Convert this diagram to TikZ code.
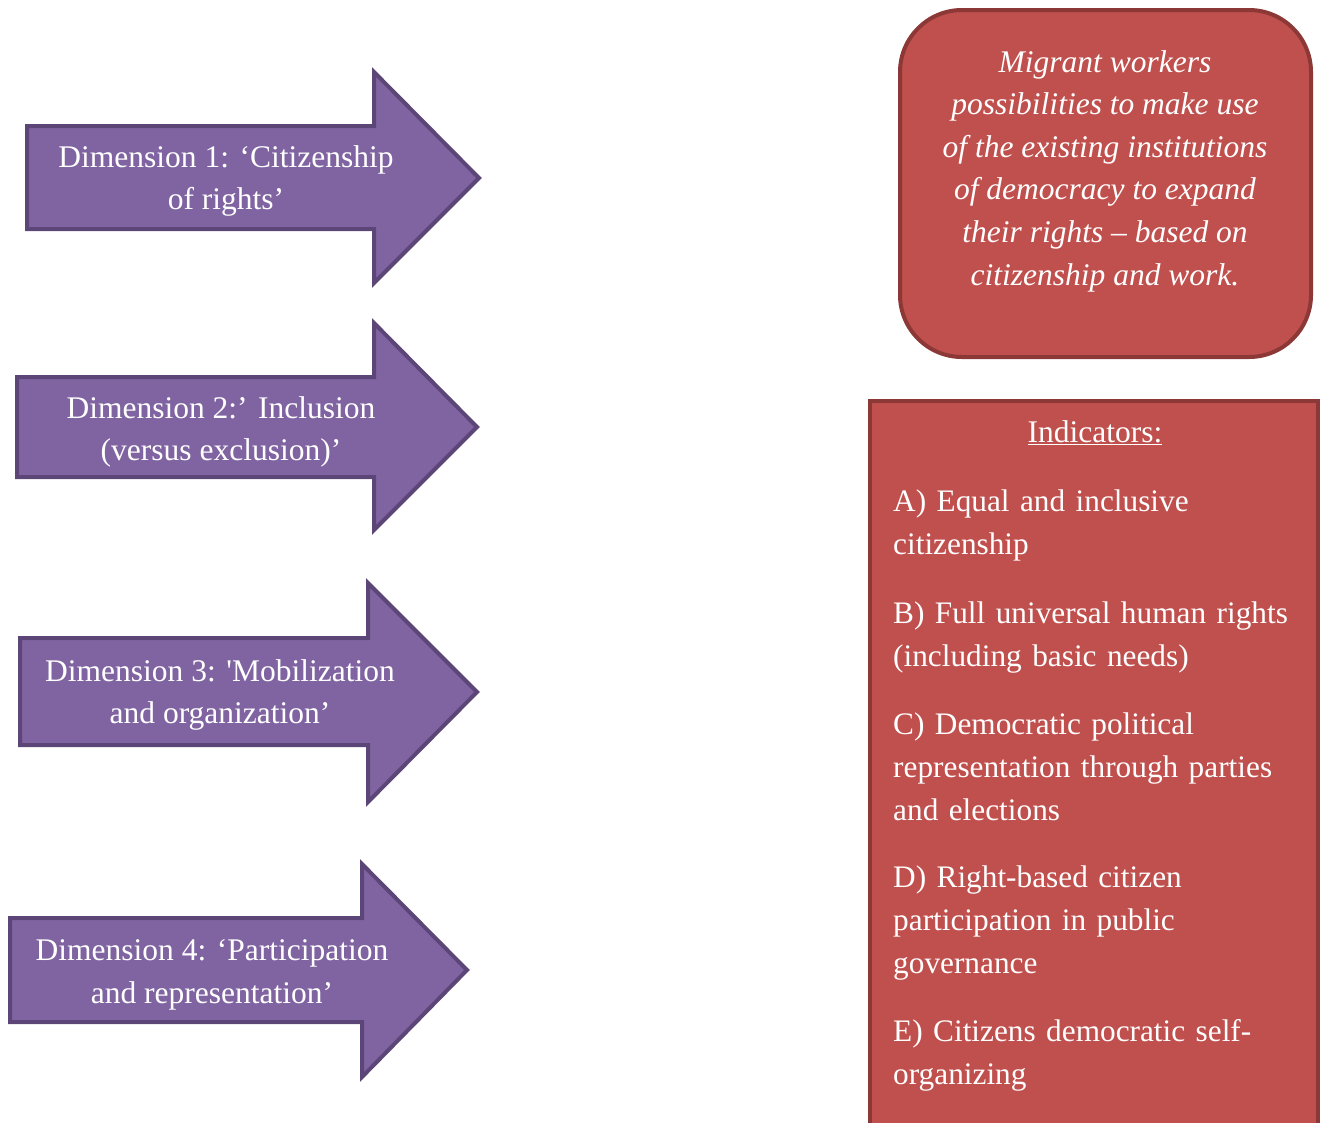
\documentclass[tikz,border=0pt]{standalone}
\usepackage{fontspec}
\setmainfont{Liberation Serif}
\newfontfamily\straightq{Liberation Serif}[Ligatures=TeXOff]
\definecolor{purfill}{HTML}{8064A2}
\definecolor{purline}{HTML}{5C4678}
\definecolor{redfill}{HTML}{C0504D}
\definecolor{redline}{HTML}{8C3836}
\tikzset{
  dimarrow/.style={fill=purfill, draw=purline, line width=4pt, line join=miter},
  dimtext/.style={text=white, align=center, font=\fontsize{31.5}{42.5}\selectfont, inner sep=0pt},
  redbox/.style={fill=redfill, draw=redline, line width=4pt},
  indtext/.style={text=white, align=left, anchor=north west, font=\fontsize{31.3}{43}\selectfont, inner sep=0pt, text width=420pt},
}
\begin{document}
\begin{tikzpicture}[x=1pt,y=-1pt]
\useasboundingbox (0,0) rectangle (1322,1122);
% arrows
\draw[dimarrow] (27,126) -- (374,126) -- (374,72) -- (479,178) -- (374,283) -- (374,229) -- (27,229) -- cycle;
\node[dimtext] (d1) at (226,181) {Dimension 1: ‘Citizenship\\of rights’};
\draw[dimarrow] (17,377) -- (374,377) -- (374,323) -- (477,427) -- (374,530) -- (374,477) -- (17,477) -- cycle;
\node[dimtext] (d2) at (221,432) {Dimension 2:’ Inclusion\\(versus exclusion)’};
\draw[dimarrow] (20,638) -- (368,638) -- (368,583) -- (477,692) -- (368,802) -- (368,745) -- (20,745) -- cycle;
\node[dimtext] (d3) at (220,695) {Dimension 3: {\straightq'}Mobilization\\and organization’};
\draw[dimarrow] (10,918) -- (362,918) -- (362,864) -- (467,970) -- (362,1077) -- (362,1022) -- (10,1022) -- cycle;
\node[dimtext] (d4) at (212,975) {Dimension 4: ‘Participation\\and representation’};
% rounded box
\draw[redbox, rounded corners=62pt] (900,10) rectangle (1311,357);
\node[dimtext, font=\itshape\fontsize{31.5}{42.6}\selectfont] (goal) at (1105,171) {Migrant workers\\possibilities to make use\\of the existing institutions\\of democracy to expand\\their rights – based on\\citizenship and work.};
% indicators box
\draw[redbox] (870,401) rectangle (1318,1135);
\node[dimtext] (ind) at (1095,433) {\underline{Indicators:}};
\node[indtext] (ia) at (893,490) {A) Equal and inclusive\\citizenship};
\node[indtext] (ib) at (893,602) {B) Full universal human rights\\(including basic needs)};
\node[indtext] (ic) at (893,713) {C) Democratic political\\representation through parties\\and elections};
\node[indtext] (id) at (893,866) {D) Right-based citizen\\participation in public\\governance};
\node[indtext] (ie) at (893,1019) {E) Citizens democratic self-\\organizing};
\end{tikzpicture}
\end{document}
